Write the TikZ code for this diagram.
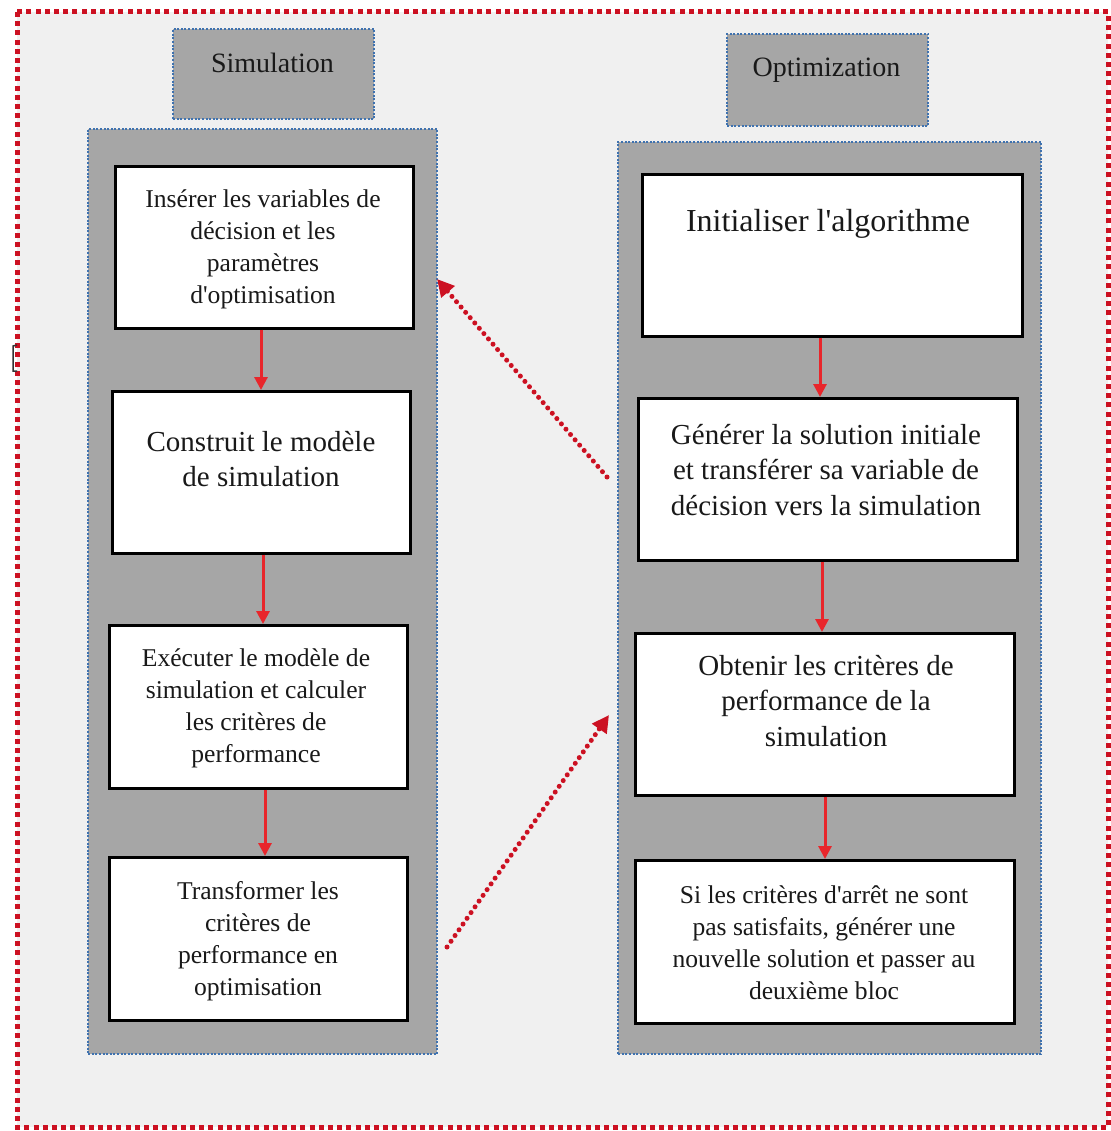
\documentclass[tikz,border=0pt]{standalone}
\usepackage{fontspec}
\setmainfont{Liberation Serif}
\usetikzlibrary{arrows.meta}
\definecolor{bg}{HTML}{F0F0F0}
\definecolor{panelgray}{HTML}{A6A6A6}
\definecolor{bluedot}{HTML}{3F72AF}
\definecolor{redborder}{HTML}{CC1122}
\definecolor{redarrow}{HTML}{E8262B}
\newcommand{\fsmall}{\fontsize{25.6}{32}\selectfont}
\newcommand{\fmid}{\fontsize{29}{35.5}\selectfont}
\newcommand{\flarge}{\fontsize{32}{38}\selectfont}
\newcommand{\apo}{\textquotesingle}
\begin{document}
\begin{tikzpicture}[x=1pt,y=-1pt,
  panel/.style={draw=bluedot, fill=panelgray, line width=2.2pt, dash pattern=on 2pt off 1.6pt, inner sep=0pt},
  header/.style={panel},
  wbox/.style={draw=black, fill=white, line width=2.6pt, inner sep=0pt},
  txt/.style={align=center, inner sep=0pt, text=black!90},
  flow/.style={draw=redarrow, line width=3pt, -{Triangle[length=13pt,width=13pt]}},
  dotarrow/.style={draw=redborder, line width=5pt, line cap=round, dash pattern=on 0pt off 7pt,
     -{Triangle[length=17pt,width=17pt,fill=redborder]}}
]
\useasboundingbox (0,0) rectangle (1110,1131);
\fill[white] (0,0) rectangle (1110,1131);
\fill[bg] (17,12) rectangle (1108,1127);
\draw[redborder, line width=5pt, dash pattern=on 5pt off 4.2pt] (17,12) rectangle (1108,1127);
\draw[black!80, line width=1.5pt] (17,345) -- (13,346) -- (13,371) -- (17,371);

% headers
\node[header, minimum width=201pt, minimum height=90pt, anchor=north west] (hsim) at (172,28) {};
\node[txt, font=\fontsize{28}{34}\selectfont] (hsimt) at (272.5,63) {Simulation};
\node[header, minimum width=201pt, minimum height=92pt, anchor=north west] (hopt) at (726,33) {};
\node[txt, font=\fontsize{28}{34}\selectfont] (hoptt) at (826.5,70) {Optimization};

% panels
\node[panel, minimum width=349pt, minimum height=925pt, anchor=north west] (psim) at (87,128) {};
\node[panel, minimum width=423pt, minimum height=912pt, anchor=north west] (popt) at (617,141) {};

% left boxes
\node[wbox, minimum width=298pt, minimum height=162pt, anchor=north west] (s1) at (114,165) {};
\node[txt, font=\fsmall] (s1t) at (263,249) {Insérer les variables de\\décision et les\\paramètres\\d\apo optimisation};
\node[wbox, minimum width=298pt, minimum height=162pt, anchor=north west] (s2) at (111,390) {};
\node[txt, font=\fmid] (s2t) at (261,459) {Construit le modèle\\de simulation};
\node[wbox, minimum width=298pt, minimum height=163pt, anchor=north west] (s3) at (108,624) {};
\node[txt, font=\fsmall] (s3t) at (256,708) {Exécuter le modèle de\\simulation et calculer\\les critères de\\performance};
\node[wbox, minimum width=298pt, minimum height=163pt, anchor=north west] (s4) at (108,856) {};
\node[txt, font=\fsmall] (s4t) at (258,941) {Transformer les\\critères de\\performance en\\optimisation};

% right boxes
\node[wbox, minimum width=380pt, minimum height=162pt, anchor=north west] (o1) at (641,173) {};
\node[txt, font=\flarge] (o1t) at (828,224) {Initialiser l\apo algorithme};
\node[wbox, minimum width=379pt, minimum height=162pt, anchor=north west] (o2) at (637,397) {};
\node[txt, font=\fmid] (o2t) at (826,470) {Générer la solution initiale\\et transférer sa variable de\\décision vers la simulation};
\node[wbox, minimum width=379pt, minimum height=162pt, anchor=north west] (o3) at (634,632) {};
\node[txt, font=\fmid] (o3t) at (826,701) {Obtenir les critères de\\performance de la\\simulation};
\node[wbox, minimum width=379pt, minimum height=163pt, anchor=north west] (o4) at (634,859) {};
\node[txt, font=\fsmall] (o4t) at (824,943) {Si les critères d\apo arrêt ne sont\\pas satisfaits, générer une\\nouvelle solution et passer au\\deuxième bloc};

% vertical flow arrows
\draw[flow] (s1.south -| 261,0) -- (s2.north -| 261,0);
\draw[flow] (s2.south -| 263,0) -- (s3.north -| 263,0);
\draw[flow] (s3.south -| 265,0) -- (s4.north -| 265,0);
\draw[flow] (o1.south -| 820,0) -- (o2.north -| 820,0);
\draw[flow] (o2.south -| 822,0) -- (o3.north -| 822,0);
\draw[flow] (o3.south -| 825,0) -- (o4.north -| 825,0);

% dotted transfer arrows
\coordinate (d1a) at (607,477);
\coordinate (d1b) at (437,279);
\coordinate (d2a) at (447,947);
\coordinate (d2b) at (609,715);
\draw[dotarrow] (d1a) -- (d1b);
\draw[dotarrow] (d2a) -- (d2b);
\end{tikzpicture}
\end{document}
